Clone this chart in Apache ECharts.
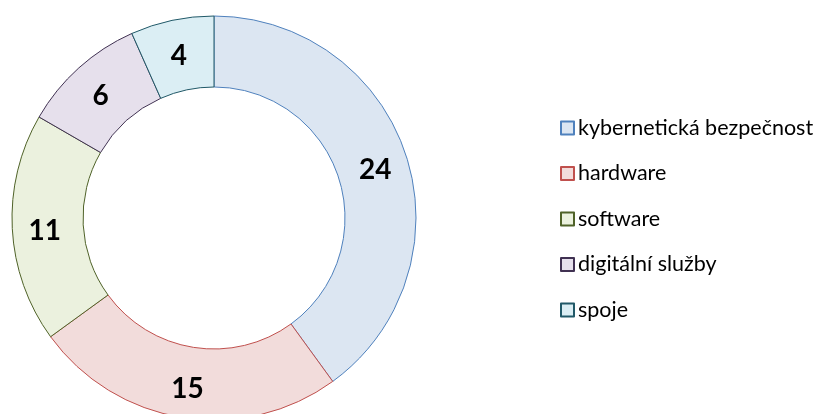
<!DOCTYPE html>
<html>
<head>
<meta charset="utf-8">
<script src="https://cdn.jsdelivr.net/npm/echarts@6/dist/echarts.min.js"></script>
<style>html,body{margin:0;padding:0;background:#fff}#c{width:822px;height:414px}</style>
</head>
<body>
<div id="c"></div>
<script>
const categories = ["kybernetická bezpečnost", "hardware", "software", "digitální služby", "spoje"];
const values = [24, 15, 11, 6, 4];
const fillColors = ["#DCE6F2", "#F2DCDB", "#EBF1DE", "#E6E0EC", "#DBEEF4"];
const borderColors = ["#4F81BD", "#C0504D", "#4F6228", "#403152", "#215968"];

const chart = echarts.init(document.getElementById('c'), null, {renderer: 'canvas'});
chart.setOption({
  animation: false,
  backgroundColor: '#ffffff',
  legend: {
    orient: 'vertical',
    left: 555,
    top: 112,
    itemWidth: 13,
    itemHeight: 13,
    itemGap: 23.5,
    icon: 'rect',
    textStyle: {fontFamily: 'Lato', fontSize: 21.5, color: '#000', lineHeight: 22, padding: [0,0,0,-1]},
    data: categories
  },
  series: [{
    type: 'pie',
    center: [214, 218],
    radius: [131, 202],
    startAngle: 90,
    clockwise: true,
    avoidLabelOverlap: false,
    label: {
      show: true,
      position: 'inside',
      formatter: '{c}',
      fontFamily: 'Lato',
      fontWeight: 'bold',
      fontSize: 28,
      color: '#000',
      offset: [0, 4]
    },
    labelLine: {show: false},
    emphasis: {disabled: true},
    data: categories.map((n, i) => ({
      name: n,
      value: values[i],
      itemStyle: {color: fillColors[i], borderColor: borderColors[i], borderWidth: 1}
    }))
  }]
});
</script>
</body>
</html>
